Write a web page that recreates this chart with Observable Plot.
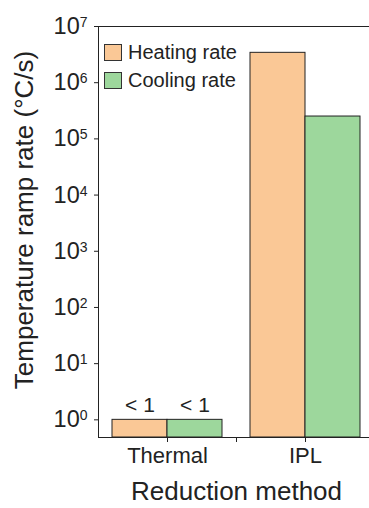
<!DOCTYPE html>
<html><head><meta charset="utf-8">
<script src="https://cdn.jsdelivr.net/npm/d3@7"></script>
<script src="https://cdn.jsdelivr.net/npm/@observablehq/plot@0.6"></script>
<style>
html,body{margin:0;padding:0;overflow:hidden;background:#fff}
#wrap{position:relative;width:369px;height:508px;overflow:hidden}
#wrap svg{display:block}
#legend{position:absolute;left:104px;top:38px;font-family:"Liberation Sans",Arial,sans-serif;font-size:20px;color:#222}
#legend .row{display:flex;align-items:center;height:28px}
#legend .sw{width:16px;height:15px;border:1px solid #333;margin-right:6px;box-sizing:content-box}
</style></head><body><div id="wrap"></div>
<script>
const methods = ["Thermal", "IPL"];
const seriesNames = ["Heating rate", "Cooling rate"];
const heating = [1, 3.4e6];
const cooling = [1, 2.5e5];
const valueLabels = [["< 1", "< 1"], ["", ""]];
const yTicks = [1, 10, 100, 1e3, 1e4, 1e5, 1e6, 1e7];
const colors = ["#fac896", "#9dd79c"];
const yMin = 0.485, yMax = 1e7;

const rows = methods.flatMap((m, i) => [
  {method: m, series: seriesNames[0], value: heating[i], label: valueLabels[i][0]},
  {method: m, series: seriesNames[1], value: cooling[i], label: valueLabels[i][1]}
]);

const chart = Plot.plot({
  width: 369, height: 508,
  marginLeft: 97, marginRight: -5, marginTop: 26, marginBottom: 71,
  style: {fontFamily: "'Liberation Sans', Arial, sans-serif", fontSize: "22px", color: "#222", background: "#fff"},
  fx: {domain: methods, paddingInner: 0, paddingOuter: 0, axis: "bottom", tickSize: 5, tickPadding: 5,
       label: "Reduction method", labelAnchor: "center", labelOffset: 62},
  x: {domain: seriesNames, paddingInner: 0, paddingOuter: 0.25, axis: null},
  y: {type: "log", domain: [yMin, yMax], ticks: yTicks, tickSize: 4, tickPadding: 7, line: true,
      tickFormat: d => "10^" + Math.round(Math.log10(d)),
      label: "Temperature ramp rate (°C/s)", labelAnchor: "center", labelOffset: 84},
  color: {domain: seriesNames, range: colors},
  marks: [
    Plot.barY(rows, {fx: "method", x: "series", y1: () => yMin, y2: "value", fill: "series", stroke: "#222", strokeWidth: 1}),
    Plot.text(rows, {fx: "method", x: "series", y: "value", text: "label", lineAnchor: "bottom", dy: -8, fontSize: 21, fill: "#222"}),
    Plot.ruleY([yMax], {stroke: "#222"}),
    Plot.ruleY([yMin], {stroke: "#222"}),
    Plot.ruleX(rows.filter(d => d.method === methods[1] && d.series === seriesNames[0]),
      {fx: "method", x: "series", y1: () => yMin, y2: () => yMin, insetBottom: -5, dx: -41.5, stroke: "#222"})
  ]
});

const svgNode = chart.tagName.toLowerCase() === "svg" ? chart : chart.querySelector("svg");
const svg = d3.select(svgNode);
svg.selectAll('[aria-label="y-axis tick label"] text').style("font-size", "23.5px");
svg.selectAll('[aria-label="fx-axis tick label"] text').style("font-size", "22px");
svg.selectAll('[aria-label="y-axis tick label"] text').each(function() {
  const t = this.textContent;
  if (t.startsWith("10^")) {
    const e = t.slice(3);
    const s = d3.select(this);
    s.text("10");
    s.append("tspan").attr("dy", "-0.5em").style("font-size", "14px").text(e);
  }
});
svg.selectAll('[aria-label="y-axis label"] text, [aria-label="fx-axis label"] text').each(function() {
  const s = d3.select(this);
  s.text(this.textContent.replace(/[\u2191\u2192\u2193\u2190]/g, "").trim());
  s.style("font-size", "26px");
});
svg.selectAll('[aria-label="y-axis label"] text').attr("dx", 12);
svg.selectAll('[aria-label="y-axis tick"], [aria-label="fx-axis tick"], [aria-label="y-axis line"]').attr("stroke", "#222");

const wrap = document.getElementById("wrap");
wrap.appendChild(chart);
const legend = d3.select(wrap).append("div").attr("id", "legend");
seriesNames.forEach((name, i) => {
  const r = legend.append("div").attr("class", "row");
  r.append("div").attr("class", "sw").style("background", colors[i]);
  r.append("span").text(name);
});
</script>
</body></html>
